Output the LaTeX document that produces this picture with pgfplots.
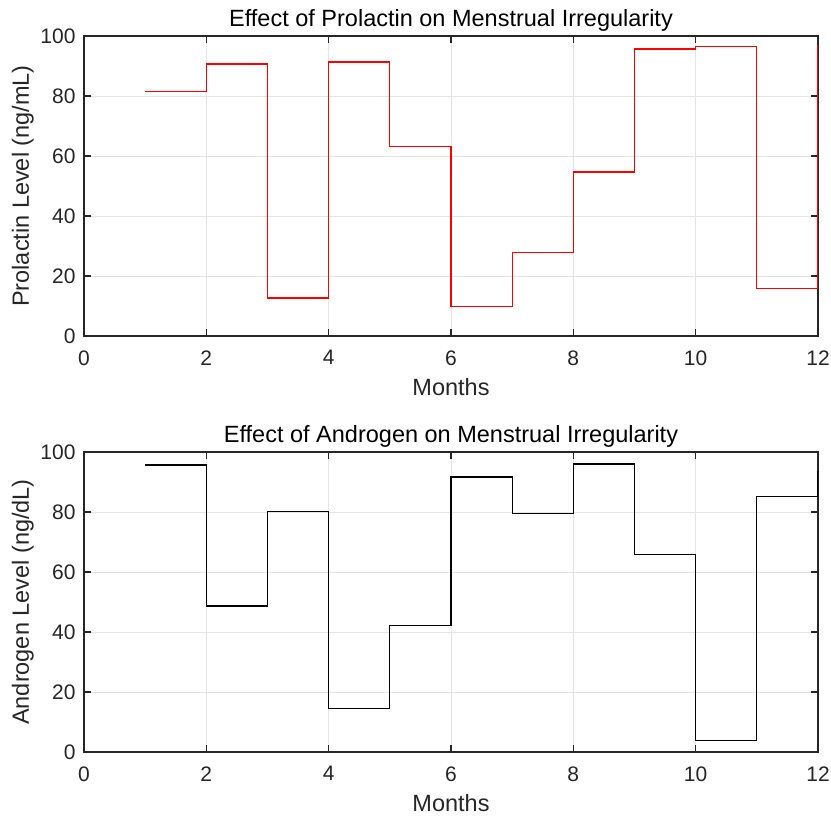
\documentclass[border=0pt]{standalone}
\usepackage{fontspec}
\setmainfont{Liberation Sans}
\usepackage{pgfplots}
\pgfplotsset{compat=1.18}
\definecolor{axgray}{HTML}{262626}
\definecolor{gridgray}{HTML}{E4E4E4}
\definecolor{mred}{RGB}{255,0,0}

\pgfplotsset{mstyle/.style={
    scale only axis, width=734pt, height=300pt,
    anchor=south west,
    xmin=0, xmax=12, ymin=0, ymax=100,
    xtick={0,2,...,12}, ytick={0,20,...,100},
    grid=major, major grid style={draw=gridgray, line width=0.9pt},
    axis line style={draw=axgray, line width=1.3pt},
    tick style={draw=axgray, line width=1.3pt},
    tick align=inside, major tick length=7pt,
    ticklabel style={font=\fontsize{21}{25}\selectfont, text=axgray},
    xticklabel style={yshift=-11pt},
    yticklabel style={xshift=-5pt},
    /pgf/number format/assume math mode=true,
    every axis title/.style={at={(axis description cs:0.5,1.031)}, anchor=base,
        inner sep=0pt, font=\fontsize{23.5}{28}\selectfont, text=black},
    every axis x label/.style={at={(axis description cs:0.5,-0.197)}, anchor=base,
        inner sep=0pt, font=\fontsize{23.5}{28}\selectfont, text=axgray},
    every axis y label/.style={at={(axis description cs:-0.0835,0.5)}, anchor=center,
        rotate=90, inner sep=0pt, font=\fontsize{23.5}{28}\selectfont, text=axgray},
    const plot,
}}

\begin{document}
\begin{tikzpicture}
\useasboundingbox (0,0) rectangle (831pt,816pt);

% top: prolactin
\begin{axis}[mstyle, at={(84pt,480pt)},
    title={Effect of Prolactin on Menstrual Irregularity},
    xlabel={Months}, ylabel={Prolactin Level (ng/mL)}]
\addplot[draw=mred, line width=1.3pt, no marks] coordinates {
    (1,81.4) (2,90.7) (3,12.7) (4,91.3) (5,63.2) (6,9.8)
    (7,27.8) (8,54.7) (9,95.7) (10,96.6) (11,15.8) (12,97)
};
\end{axis}

% bottom: androgen
\begin{axis}[mstyle, at={(84pt,64pt)},
    title={Effect of Androgen on Menstrual Irregularity},
    xlabel={Months}, ylabel={Androgen Level (ng/dL)}]
\addplot[draw=black, line width=1.3pt, no marks] coordinates {
    (1,95.7) (2,48.7) (3,80.2) (4,14.4) (5,42.2) (6,91.7)
    (7,79.4) (8,96) (9,65.8) (10,3.8) (11,85.1) (12,93.6)
};
\end{axis}
\end{tikzpicture}
\end{document}
